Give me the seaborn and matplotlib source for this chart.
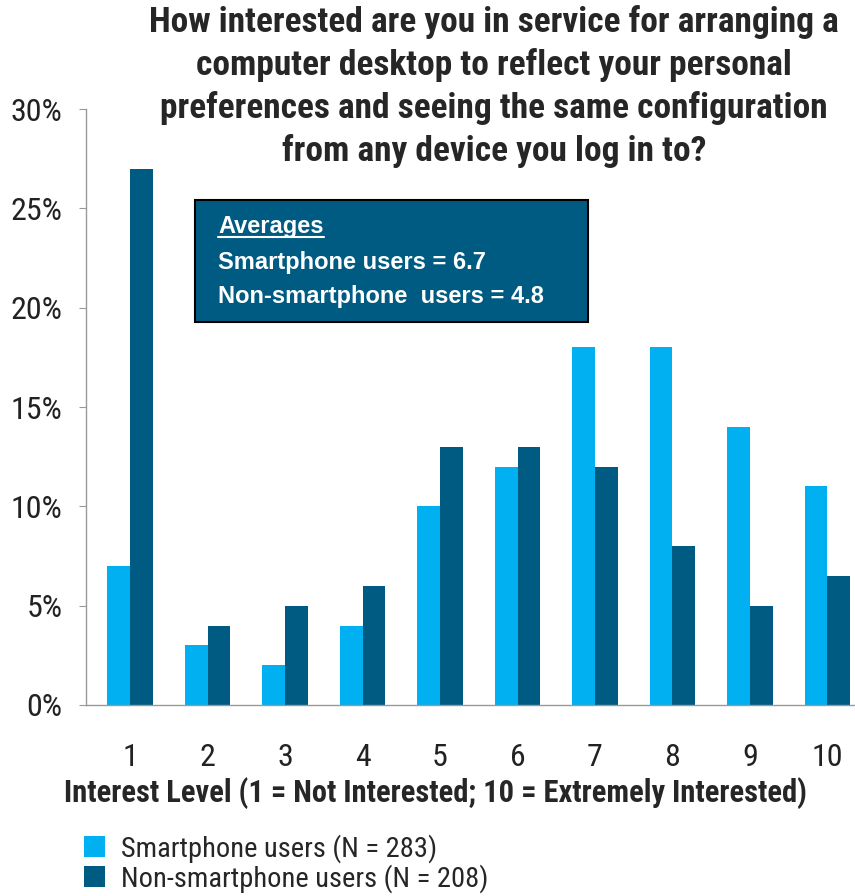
import numpy as np
import pandas as pd
import matplotlib
matplotlib.use("Agg")
import matplotlib.pyplot as plt
from matplotlib.patches import Rectangle
import seaborn as sns

# data
levels = ["1", "2", "3", "4", "5", "6", "7", "8", "9", "10"]
smartphone = [7, 3, 2, 4, 10, 12, 18, 18, 14, 11]
non_smartphone = [27, 4, 5, 6, 13, 13, 12, 8, 5, 6.5]
series_names = ["Smartphone users (N = 283)", "Non-smartphone users (N = 208)"]
avg_lines = ["Smartphone users = 6.7", "Non-smartphone  users = 4.8"]
title = ("How interested are you in service for arranging a\n"
         "computer desktop to reflect your personal\n"
         "preferences and seeing the same configuration\n"
         "from any device you log in to?")
xlabel = "Interest Level (1 = Not Interested; 10 = Extremely Interested)"

light = "#00B0F0"
dark = "#005B82"

sns.set_style("white")
plt.rcParams["font.family"] = ["Roboto Condensed", "DejaVu Sans"]

df = pd.DataFrame({
    "level": levels * 2,
    "pct": smartphone + non_smartphone,
    "group": [series_names[0]] * 10 + [series_names[1]] * 10,
})

W, H = 855, 896
fig = plt.figure(figsize=(W / 100, H / 100), dpi=100)
ax = fig.add_axes([86 / W, 1 - 705 / H, (W - 86) / W, (705 - 109) / H])

sns.barplot(data=df, x="level", y="pct", hue="group", order=levels,
            palette=[light, dark], width=0.59, saturation=1, linewidth=0, ax=ax)
handles, labels = ax.get_legend_handles_labels()
ax.get_legend().remove()

ax.set_xlim(-0.568, 9.355)
ax.set_ylim(0, 30)
ax.set_yticks(np.arange(0, 31, 5))
ax.set_yticklabels([f"{v}%" for v in range(0, 31, 5)], fontsize=23, color="#222222")
ax.set_xticks(range(10))
ax.set_xticklabels(levels, fontsize=23, color="#222222")
ax.set_xticks(np.arange(-0.5, 9, 1), minor=True)
ax.tick_params(axis="x", which="major", length=0, pad=27)
ax.tick_params(axis="x", which="minor", length=7, color="#999999", direction="out")
ax.tick_params(axis="y", length=5, color="#999999", direction="out", pad=12, left=True)
ax.set_xlabel("")
ax.set_ylabel("")
for s in ["top", "right"]:
    ax.spines[s].set_visible(False)
for s in ["left", "bottom"]:
    ax.spines[s].set_color("#999999")
    ax.spines[s].set_linewidth(1)

fig.text(494 / W, 1 - 5 / H, title, ha="center", va="top", fontsize=25.5,
         fontweight="bold", linespacing=1.33)
fig.text(435 / W, 1 - 793 / H, xlabel, ha="center", va="center", fontsize=22,
         fontweight="bold")

# averages box
box = Rectangle((195 / W, 1 - 322 / H), (588 - 195) / W, (322 - 200) / H,
                transform=fig.transFigure, facecolor=dark, edgecolor="black",
                linewidth=1.5)
fig.add_artist(box)
box_font = ["Liberation Sans", "DejaVu Sans"]
t0 = fig.text(218 / W, 1 - 227 / H, "Averages", ha="left", va="center",
              fontsize=17, fontweight="bold", color="white", family=box_font)
for i, line in enumerate(avg_lines):
    fig.text(218 / W, 1 - (262 + 34.5 * i) / H, line, ha="left", va="center",
             fontsize=17, fontweight="bold", color="white", family=box_font)
fig.canvas.draw()
bb = t0.get_window_extent().transformed(fig.transFigure.inverted())
fig.add_artist(plt.Line2D([bb.x0, bb.x1], [bb.y0 + 1 / H, bb.y0 + 1 / H],
                          transform=fig.transFigure, color="white", linewidth=1.5))

fig.legend(handles, labels, loc="upper left", bbox_to_anchor=(84 / W, 1 - 834 / H),
           frameon=False, fontsize=20.5, handlelength=0.75, handleheight=0.75,
           handletextpad=0.55, labelspacing=0.05, borderaxespad=0, borderpad=0)

fig.savefig("out.png", dpi=100)
